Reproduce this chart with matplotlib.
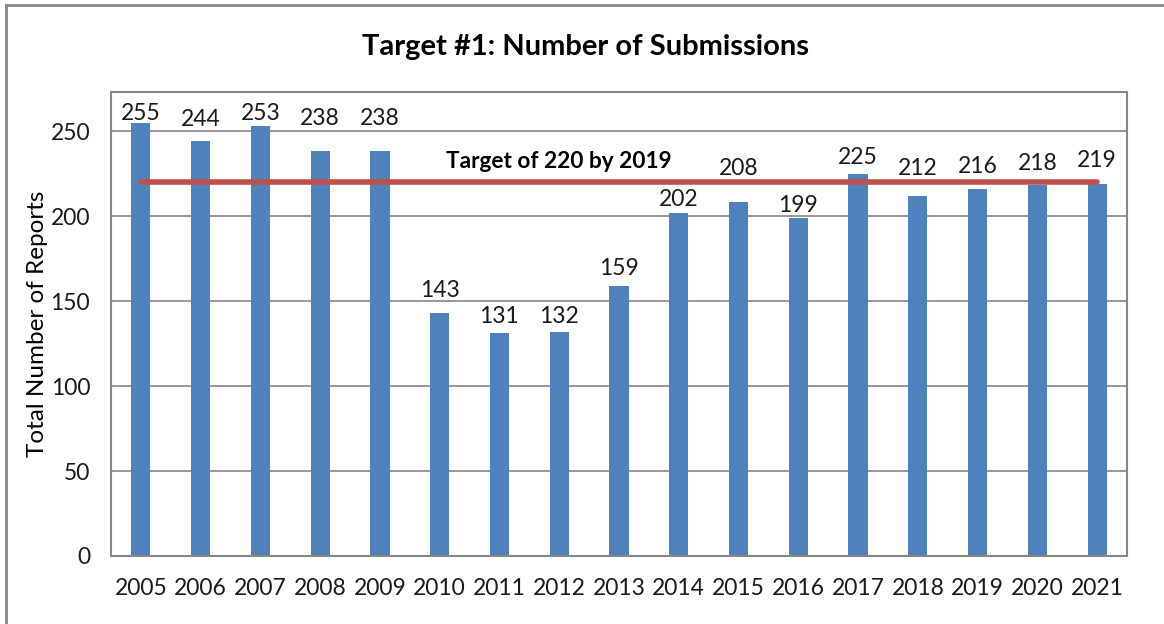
import matplotlib.pyplot as plt
from matplotlib.lines import Line2D

years = ['2005', '2006', '2007', '2008', '2009', '2010', '2011', '2012', '2013',
         '2014', '2015', '2016', '2017', '2018', '2019', '2020', '2021']
reports = [255, 244, 253, 238, 238, 143, 131, 132, 159,
           202, 208, 199, 225, 212, 216, 218, 219]
target = 220

# heights where the value labels sit (moved by hand in the original)
label_y = [260.6, 257.1, 260.6, 257.6, 257.6, 156.5, 141.2, 141.2, 169.4,
           210.0, 228.2, 206.5, 234.7, 228.2, 229.4, 231.2, 232.9]

plt.rcParams['font.family'] = ['Lato', 'DejaVu Sans']

fig = plt.figure(figsize=(11.64, 6.24), dpi=100)
ax = fig.add_axes([111 / 1164, 1 - 556 / 624, (1127 - 111) / 1164, (556 - 92) / 624])

x = list(range(len(years)))
ax.bar(x, reports, width=0.32, color='#4F81BD', zorder=2)
ax.plot([x[0], x[-1]], [target, target], color='#C0504D', linewidth=4,
        solid_capstyle='round', zorder=3)

for xi, v, ly in zip(x, reports, label_y):
    ax.text(xi, ly, str(v), ha='center', va='center', fontsize=16.5,
            color='#1a1a1a', zorder=4)

ax.text(7, 232, 'Target of 220 by 2019', ha='center', va='center',
        fontsize=16.3, fontweight='bold', color='black', zorder=4)

ax.set_xlim(-0.5, len(years) - 0.5)
ax.set_ylim(0, 273)
ax.set_yticks([0, 50, 100, 150, 200, 250])
ax.set_xticks(x)
ax.set_xticklabels(years)
ax.tick_params(axis='both', length=0, labelsize=16.5, colors='#1a1a1a')
ax.tick_params(axis='x', pad=16)
ax.tick_params(axis='y', pad=15)
ax.grid(axis='y', color='#868686', linewidth=1.2, zorder=0)
for s in ax.spines.values():
    s.set_color('#868686')
    s.set_linewidth(1.5)

ax.set_ylabel('Total Number of Reports', fontsize=17.5, labelpad=2)
fig.text(586 / 1164, 1 - 47 / 624, 'Target #1: Number of Submissions',
         ha='center', va='center', fontsize=21, fontweight='bold')

# outer chart frame (top and left edges visible)
fig.add_artist(Line2D([6 / 1164, 6 / 1164], [0, 1 - 5 / 624], transform=fig.transFigure,
                      color='#888888', linewidth=2))
fig.add_artist(Line2D([6 / 1164, 1], [1 - 5 / 624, 1 - 5 / 624], transform=fig.transFigure,
                      color='#888888', linewidth=2))

fig.savefig('out.png', dpi=100)
